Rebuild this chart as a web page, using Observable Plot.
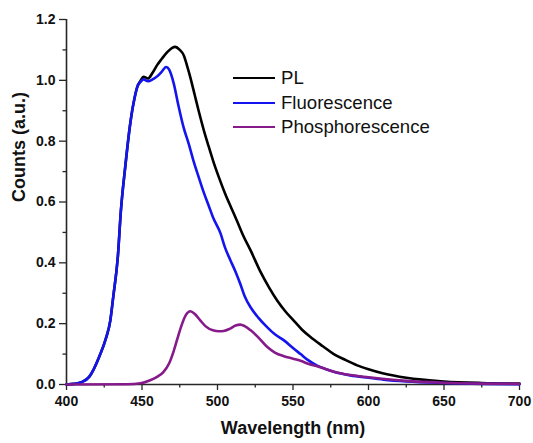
<!DOCTYPE html>
<html>
<head>
<meta charset="utf-8">
<script src="https://cdn.jsdelivr.net/npm/d3@7"></script>
<script src="https://cdn.jsdelivr.net/npm/@observablehq/plot@0.6"></script>
<style>
  html, body { margin: 0; padding: 0; background: #fff; }
  #wrap { position: relative; width: 533px; height: 443px; }
  #legend { position: absolute; left: 233px; top: 66px; font-family: "Liberation Sans", Arial, sans-serif; font-size: 18.6px; color: #111; }
  #legend .row { display: flex; align-items: center; height: 24.5px; }
  #legend .sw { width: 42px; height: 0; border-top-width: 2.6px; border-top-style: solid; margin-right: 6px; }
</style>
</head>
<body>
<div id="wrap"><div id="legend"></div></div>
<script>
// ---- data ----
const seriesNames = ["PL", "Fluorescence", "Phosphorescence"];
const seriesColors = ["#000000", "#1414ee", "#861a8a"];

const plWavelength = [400,405,410,415,418,422,426,429,431,434,436,439,442,445,447,449,451,454,457,460,463,466.7,470,472,475,477.7,480,482,485,487.5,491,494,497,501,505,509,513,517,522,528.5,534,539.5,545,550.5,556,561.6,570,577,585,592.5,600,610,625,650,675,700];
const plCounts     = [0,0.002,0.008,0.025,0.05,0.095,0.15,0.21,0.29,0.42,0.57,0.72,0.85,0.94,0.98,0.998,1.012,1.006,1.025,1.05,1.07,1.093,1.107,1.11,1.1,1.082,1.045,1.01,0.95,0.9,0.835,0.785,0.737,0.68,0.628,0.582,0.537,0.49,0.44,0.37,0.32,0.276,0.24,0.21,0.18,0.156,0.125,0.1,0.08,0.063,0.05,0.036,0.022,0.01,0.005,0.003];

const flWavelength = [400,405,410,415,418,422,426,429,431,434,436,439,442,445,447,449,451,454,457,460,463,466,468,471,474,477.5,481,484,487,491,494,497,502,505,508.6,512,515,518,522,527,533,538,544,550,555,560,566,572,577,588,600,610,625,650,675,700];
const flCounts     = [0,0.002,0.008,0.025,0.05,0.095,0.15,0.21,0.29,0.42,0.57,0.72,0.85,0.94,0.98,0.995,1.003,0.997,1.003,1.013,1.028,1.044,1.035,0.99,0.92,0.846,0.79,0.737,0.69,0.63,0.59,0.55,0.497,0.45,0.408,0.37,0.332,0.29,0.253,0.22,0.188,0.165,0.145,0.12,0.1,0.08,0.062,0.05,0.042,0.03,0.022,0.016,0.01,0.005,0.002,0.001];

const phWavelength = [400,440,449,455,460,464,468,471,474,476.6,479,482,485,488.7,492,497,501,504,508,512,515,518,522,527,533,538,544,550,555,560,566,572,577,588,600,625,650,675,700];
const phCounts     = [0,0.001,0.004,0.013,0.025,0.04,0.07,0.11,0.16,0.2,0.228,0.241,0.232,0.21,0.192,0.178,0.175,0.176,0.183,0.194,0.197,0.192,0.178,0.155,0.123,0.105,0.093,0.085,0.078,0.068,0.06,0.05,0.042,0.031,0.024,0.012,0.006,0.003,0.002];

const xDomain = [400, 700];
const yDomain = [0, 1.2];
const xMajorTicks = [400, 450, 500, 550, 600, 650, 700];
const xMinorTicks = [425, 475, 525, 575, 625, 675];
const yMajorTicks = [0, 0.2, 0.4, 0.6, 0.8, 1.0, 1.2];
const yMinorTicks = [0.1, 0.3, 0.5, 0.7, 0.9, 1.1];
const xTitle = "Wavelength (nm)";
const yTitle = "Counts (a.u.)";

// ---- build tables ----
const toRows = (xs, ys, name) => xs.map((x, i) => ({x, y: ys[i], series: name}));
const rows = [
  ...toRows(plWavelength, plCounts, seriesNames[0]),
  ...toRows(flWavelength, flCounts, seriesNames[1]),
  ...toRows(phWavelength, phCounts, seriesNames[2])
];

const axisColor = "#262626";
const chart = Plot.plot({
  width: 533,
  height: 443,
  marginLeft: 66,
  marginRight: 14,
  marginTop: 19,
  marginBottom: 59,
  style: {fontFamily: "'Liberation Sans', Arial, sans-serif", fontSize: "14px", fontWeight: "bold", color: "#111", background: "#fff", overflow: "visible"},
  x: {domain: xDomain, label: null},
  y: {domain: yDomain, label: null},
  color: {domain: seriesNames, range: seriesColors},
  marks: [
    Plot.axisX({ticks: xMinorTicks, tickSize: 3.5, tickFormat: () => "", label: null, stroke: axisColor, strokeWidth: 1.3}),
    Plot.axisX({ticks: xMajorTicks, tickSize: 6, tickPadding: 6, tickFormat: d => String(d), label: null, stroke: axisColor, strokeWidth: 1.3, fill: "#111"}),
    Plot.axisY({ticks: yMinorTicks, tickSize: 3.5, tickFormat: () => "", label: null, stroke: axisColor, strokeWidth: 1.3}),
    Plot.axisY({ticks: yMajorTicks, tickSize: 7, tickPadding: 4, tickFormat: d3.format(".1f"), label: null, stroke: axisColor, strokeWidth: 1.3, fill: "#111"}),
    Plot.ruleX([xDomain[0]], {stroke: axisColor, strokeWidth: 1.6}),
    Plot.ruleY([yDomain[0]], {stroke: axisColor, strokeWidth: 1.6}),
    Plot.lineY(rows, {x: "x", y: "y", z: "series", stroke: "series", strokeWidth: 2.6, curve: "monotone-x"}),
    Plot.text([xTitle], {frameAnchor: "bottom", dy: 49, fontSize: 18, fontWeight: "bold", fill: "#111"}),
    Plot.text([yTitle], {frameAnchor: "left", dx: -47, rotate: -90, fontSize: 18, fontWeight: "bold", fill: "#111"})
  ]
});
const wrap = document.getElementById("wrap");
wrap.insertBefore(chart, wrap.firstChild);

// enlarge / embolden tick labels
d3.select(chart).selectAll("text").each(function () {
  const t = this.textContent;
  if (t !== xTitle && t !== yTitle) {
    this.style.setProperty("font-size", "14px", "important");
    this.style.setProperty("font-weight", "bold", "important");
  }
});

const legend = document.getElementById("legend");
seriesNames.forEach((name, i) => {
  const row = document.createElement("div");
  row.className = "row";
  const sw = document.createElement("span");
  sw.className = "sw";
  sw.style.borderTopColor = seriesColors[i];
  const label = document.createElement("span");
  label.textContent = name;
  row.appendChild(sw);
  row.appendChild(label);
  legend.appendChild(row);
});
</script>
</body>
</html>
